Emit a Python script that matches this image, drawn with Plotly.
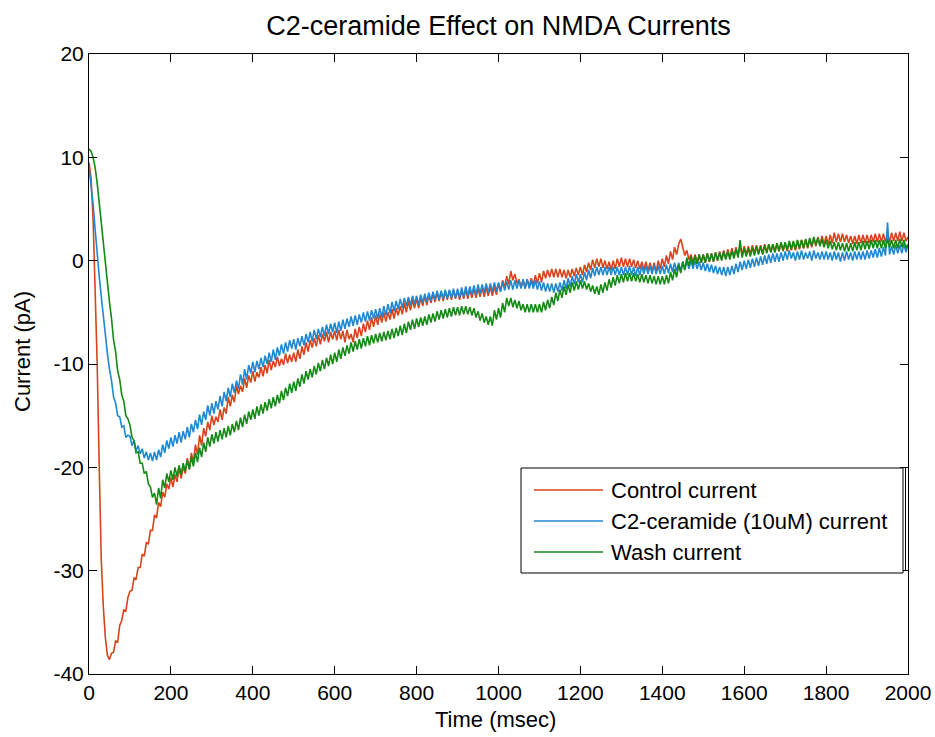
import plotly.graph_objects as go

# ---- data ----
time_ms = list(range(0, 2001, 5))

control_current = [
    9.5, 8.0, 4.0, -2.0, -10.0, -20.0, -29.0, -33.5, -36.5, -38.2, -38.6, -38.0, -37.9, -36.8, -36.9, -35.3, -34.8, -33.8, -33.9, -32.6,
    -32.0, -31.9, -30.7, -30.8, -29.7, -29.7, -28.4, -28.6, -27.3, -27.4, -26.1, -26.1, -24.6, -24.9, -23.4, -23.8, -22.4, -22.9, -21.6, -22.1,
    -21.0, -21.9, -20.7, -21.4, -20.0, -21.1, -19.9, -20.6, -19.1, -20.2, -18.6, -19.5, -17.8, -18.8, -16.9, -17.9, -16.2, -17.0, -15.6, -16.4,
    -15.0, -15.9, -15.1, -15.6, -14.4, -15.4, -14.2, -14.8, -13.2, -14.1, -13.0, -13.7, -12.1, -12.9, -12.1, -12.7, -11.4, -12.3, -11.1, -11.8,
    -10.7, -11.7, -10.8, -11.3, -10.3, -11.2, -10.1, -10.9, -9.6, -10.6, -9.7, -10.3, -9.3, -10.2, -9.5, -10.1, -9.0, -9.9, -9.1, -9.8,
    -8.9, -9.8, -8.6, -9.5, -8.3, -9.1, -7.9, -8.8, -7.7, -8.4, -7.5, -8.3, -7.2, -8.1, -7.1, -7.8, -6.9, -7.9, -6.9, -7.6,
    -6.8, -7.7, -6.7, -7.6, -6.8, -7.9, -6.7, -7.6, -7.1, -7.9, -6.6, -7.5, -6.4, -7.3, -6.1, -6.9, -5.8, -6.7, -5.5, -6.4,
    -5.3, -6.2, -5.2, -6.0, -5.0, -5.9, -5.0, -5.7, -4.7, -5.6, -4.6, -5.3, -4.4, -5.2, -4.1, -5.0, -3.9, -4.8, -3.8, -4.6,
    -3.7, -4.6, -3.6, -4.4, -3.4, -4.3, -3.3, -4.1, -3.2, -4.0, -3.1, -3.9, -3.0, -3.9, -3.0, -3.8, -2.9, -3.8, -2.9, -3.7,
    -2.9, -3.8, -2.9, -3.7, -2.8, -3.7, -2.8, -3.6, -2.7, -3.6, -2.7, -3.5, -2.6, -3.5, -2.6, -3.4, -2.5, -3.4, -2.5, -3.3,
    -2.2, -3.0, -1.9, -2.6, -1.5, -2.3, -1.0, -1.9, -1.3, -2.2, -1.8, -2.6, -1.9, -2.7, -1.8, -2.5, -1.7, -2.4, -1.4, -2.2,
    -1.2, -2.1, -1.0, -1.7, -0.9, -1.6, -0.8, -1.6, -0.8, -1.6, -0.8, -1.6, -0.9, -1.7, -0.9, -1.6, -0.8, -1.5, -0.7, -1.4,
    -0.6, -1.4, -0.4, -1.1, -0.2, -0.9, 0.1, -0.7, 0.2, -0.6, 0.2, -0.7, 0.0, -0.8, -0.1, -0.9, 0.0, -0.8, 0.2, -0.6,
    0.3, -0.6, 0.2, -0.6, 0.2, -0.6, 0.1, -0.7, 0.0, -0.8, -0.1, -0.9, -0.1, -1.0, -0.2, -1.0, -0.2, -1.1, 0.0, -0.8,
    0.2, -0.6, 0.5, -0.3, 0.9, 0.1, 1.3, 0.6, 1.6, 2.1, 1.4, 0.5, 1.0, 0.1, 0.6, -0.2, 0.6, -0.3, 0.6, -0.2,
    0.6, -0.2, 0.7, -0.1, 0.7, -0.1, 0.8, 0.0, 0.9, 0.1, 1.0, 0.2, 1.1, 0.3, 1.2, 0.4, 1.3, 0.5, 1.4, 0.6,
    1.4, 0.6, 1.4, 0.6, 1.5, 0.7, 1.5, 0.7, 1.5, 0.7, 1.6, 0.8, 1.6, 0.8, 1.6, 0.8, 1.7, 0.9, 1.7, 0.9,
    1.7, 0.9, 1.8, 1.0, 1.8, 1.0, 1.9, 1.1, 2.0, 1.2, 2.0, 1.2, 2.1, 1.3, 2.2, 1.4, 2.3, 1.5, 2.4, 1.6,
    2.4, 1.6, 2.5, 1.7, 2.7, 1.8, 2.6, 1.8, 2.6, 1.8, 2.5, 1.7, 2.4, 1.6, 2.4, 1.6, 2.5, 1.7, 2.5, 1.7,
    2.5, 1.7, 2.5, 1.8, 2.6, 1.8, 2.6, 1.8, 2.6, 1.8, 2.6, 1.8, 2.7, 1.9, 2.7, 1.9, 2.8, 1.9, 2.7, 1.9,
    2.3,
]

ceramide_current = [
    9.0, 7.5, 5.5, 3.0, 0.5, -1.5, -3.5, -5.5, -7.5, -9.0, -10.5, -11.6, -13.2, -13.8, -15.0, -15.1, -16.1, -16.0, -17.1, -16.9,
    -17.0, -17.9, -17.4, -18.4, -17.9, -18.7, -18.2, -19.1, -18.5, -19.3, -18.6, -19.4, -18.5, -19.3, -18.3, -19.0, -17.8, -18.6, -17.4, -18.2,
    -17.1, -18.0, -16.9, -17.7, -16.6, -17.6, -16.5, -17.3, -16.1, -17.1, -15.8, -16.6, -15.4, -16.3, -14.9, -15.9, -14.6, -15.4, -14.0, -15.0,
    -13.8, -14.8, -13.6, -14.4, -13.1, -14.1, -12.7, -13.6, -12.3, -13.2, -11.9, -12.8, -11.6, -12.4, -11.0, -12.0, -10.5, -11.5, -10.1, -10.9,
    -9.8, -10.8, -9.7, -10.5, -9.4, -10.3, -9.2, -10.0, -8.9, -9.8, -8.6, -9.6, -8.4, -9.2, -8.1, -9.0, -7.9, -8.8, -7.7, -8.5,
    -7.6, -8.6, -7.5, -8.3, -7.3, -8.2, -7.1, -7.9, -6.9, -7.8, -6.7, -7.6, -6.6, -7.4, -6.4, -7.3, -6.2, -7.1, -6.1, -6.9,
    -6.0, -7.0, -5.9, -6.8, -5.7, -6.6, -5.6, -6.4, -5.4, -6.3, -5.3, -6.2, -5.2, -6.0, -5.0, -5.9, -4.9, -5.8, -4.8, -5.6,
    -4.7, -5.6, -4.6, -5.5, -4.4, -5.3, -4.2, -5.1, -4.0, -4.9, -3.9, -4.7, -3.7, -4.6, -3.6, -4.4, -3.5, -4.3, -3.4, -4.2,
    -3.4, -4.3, -3.3, -4.1, -3.2, -4.0, -3.1, -3.9, -3.0, -3.8, -2.9, -3.8, -2.9, -3.7, -2.8, -3.7, -2.8, -3.6, -2.7, -3.6,
    -2.7, -3.6, -2.6, -3.5, -2.5, -3.4, -2.5, -3.3, -2.4, -3.3, -2.3, -3.2, -2.3, -3.1, -2.2, -3.1, -2.2, -3.0, -2.1, -3.0,
    -2.1, -3.0, -2.0, -2.9, -2.0, -2.8, -1.9, -2.8, -1.9, -2.7, -1.9, -2.7, -1.8, -2.7, -1.8, -2.7, -1.9, -2.7, -1.9, -2.8,
    -2.0, -2.9, -2.1, -3.0, -2.2, -3.0, -2.2, -3.1, -2.2, -3.0, -2.1, -2.9, -1.9, -2.7, -1.7, -2.5, -1.5, -2.3, -1.3, -2.1,
    -1.3, -2.1, -1.1, -1.9, -0.9, -1.7, -0.7, -1.5, -0.6, -1.4, -0.6, -1.4, -0.6, -1.4, -0.6, -1.4, -0.6, -1.4, -0.6, -1.4,
    -0.6, -1.4, -0.6, -1.4, -0.5, -1.4, -0.6, -1.5, -0.6, -1.4, -0.5, -1.3, -0.5, -1.3, -0.5, -1.3, -0.4, -1.3, -0.5, -1.3,
    -0.5, -1.3, -0.4, -1.2, -0.3, -1.1, -0.2, -1.0, -0.2, -1.0, -0.1, -0.9, 0.0, -0.8, 0.0, -0.8, 0.0, -0.8, -0.1, -0.9,
    -0.2, -1.0, -0.3, -1.1, -0.4, -1.2, -0.5, -1.3, -0.6, -1.4, -0.6, -1.5, -0.6, -1.4, -0.5, -1.3, -0.3, -1.1, -0.1, -0.9,
    0.0, -0.8, 0.1, -0.7, 0.2, -0.6, 0.3, -0.5, 0.4, -0.4, 0.5, -0.3, 0.6, -0.2, 0.7, -0.1, 0.7, -0.1, 0.8, 0.0,
    0.9, 0.1, 1.0, 0.2, 0.8, 0.0, 0.9, 0.1, 1.0, 0.1, 0.8, 0.2, 0.9, 0.0, 1.0, 0.2, 0.8, 0.1, 0.9, 0.1,
    0.9, 0.1, 0.8, 0.0, 0.9, 0.1, 0.8, -0.1, 0.8, 0.0, 0.9, 0.1, 0.8, 0.0, 0.9, 0.1, 0.9, 0.1, 0.9, 0.1,
    1.0, 0.2, 1.0, 0.3, 1.1, 0.3, 1.2, 0.4, 1.3, 0.5, 3.7, 0.6, 1.4, 0.6, 1.5, 0.7, 1.5, 0.7, 1.6, 0.8,
    1.5,
]

wash_current = [
    10.8, 10.6, 10.0, 9.0, 7.5, 5.5, 3.5, 1.5, -0.5, -2.2, -4.0, -5.6, -7.7, -8.8, -10.7, -11.5, -13.0, -13.6, -15.0, -15.3,
    -15.9, -17.1, -17.4, -18.6, -18.5, -19.6, -19.6, -20.6, -20.4, -21.6, -21.9, -22.9, -22.5, -23.6, -22.0, -23.0, -21.2, -22.0, -20.6, -21.4,
    -20.3, -21.2, -20.0, -20.9, -19.8, -20.7, -19.6, -20.4, -19.3, -20.2, -19.0, -19.9, -18.6, -19.5, -18.1, -19.0, -17.6, -18.5, -17.1, -18.0,
    -16.8, -17.7, -16.6, -17.5, -16.4, -17.3, -16.2, -17.1, -16.0, -16.9, -15.8, -16.6, -15.5, -16.4, -15.2, -16.1, -14.9, -15.8, -14.6, -15.4,
    -14.4, -15.3, -14.1, -15.0, -13.9, -14.8, -13.7, -14.5, -13.4, -14.3, -13.2, -14.1, -13.0, -13.8, -12.6, -13.5, -12.3, -13.1, -11.9, -12.8,
    -11.7, -12.6, -11.4, -12.2, -11.0, -11.9, -10.7, -11.5, -10.5, -11.3, -10.2, -11.0, -9.9, -10.7, -9.6, -10.5, -9.4, -10.2, -9.1, -10.0,
    -8.9, -9.8, -8.6, -9.5, -8.4, -9.2, -8.2, -9.0, -7.9, -8.8, -7.8, -8.6, -7.6, -8.5, -7.5, -8.3, -7.3, -8.2, -7.2, -8.0,
    -7.1, -7.9, -7.0, -7.8, -6.9, -7.7, -6.8, -7.6, -6.6, -7.5, -6.5, -7.3, -6.3, -7.2, -6.1, -7.0, -5.9, -6.7, -5.7, -6.6,
    -5.6, -6.4, -5.5, -6.3, -5.4, -6.2, -5.2, -6.0, -5.1, -5.9, -4.9, -5.7, -4.8, -5.6, -4.7, -5.5, -4.6, -5.4, -4.5, -5.3,
    -4.5, -5.3, -4.4, -5.2, -4.4, -5.2, -4.5, -5.3, -4.6, -5.5, -4.9, -5.8, -5.1, -6.0, -5.4, -6.2, -5.4, -6.3, -4.8, -5.7,
    -4.6, -5.5, -4.1, -5.0, -3.6, -4.4, -3.6, -4.5, -3.8, -4.6, -3.9, -4.8, -4.2, -5.0, -4.2, -5.0, -4.2, -5.0, -4.2, -5.0,
    -4.2, -5.0, -4.0, -4.8, -3.8, -4.6, -3.5, -4.3, -3.1, -3.9, -2.8, -3.6, -2.5, -3.3, -2.3, -3.1, -2.1, -2.9, -2.0, -2.8,
    -1.9, -2.7, -2.0, -2.8, -2.2, -3.0, -2.4, -3.2, -2.5, -3.3, -2.3, -3.1, -2.1, -2.9, -1.8, -2.6, -1.6, -2.4, -1.4, -2.2,
    -1.3, -2.1, -1.2, -2.0, -1.2, -2.0, -1.2, -2.0, -1.3, -2.1, -1.3, -2.1, -1.4, -2.2, -1.4, -2.2, -1.5, -2.3, -1.5, -2.3,
    -1.5, -2.3, -1.4, -2.2, -1.1, -1.9, -0.8, -1.6, -0.4, -1.2, -0.1, -0.9, 0.3, -0.5, 0.4, -0.4, 0.5, -0.3, 0.6, -0.2,
    0.6, -0.2, 0.7, -0.1, 0.7, -0.1, 0.8, 0.0, 0.8, 0.0, 0.9, 0.1, 0.9, 0.1, 1.0, 0.2, 1.1, 0.3, 2.0, 0.3,
    1.2, 0.4, 1.2, 0.4, 1.3, 0.5, 1.4, 0.6, 1.4, 0.6, 1.5, 0.7, 1.6, 0.8, 1.6, 0.8, 1.7, 0.9, 1.8, 1.0,
    1.8, 1.0, 1.9, 1.1, 1.9, 1.1, 2.0, 1.2, 2.0, 1.2, 2.1, 1.3, 2.2, 1.4, 2.3, 1.5, 2.2, 1.4, 2.1, 1.3,
    2.0, 1.2, 1.9, 1.1, 1.8, 1.0, 1.8, 1.0, 1.7, 0.9, 1.7, 0.9, 1.7, 0.9, 1.8, 1.0, 1.8, 1.0, 1.9, 1.1,
    1.9, 1.1, 2.0, 1.2, 2.0, 1.2, 2.0, 1.2, 2.0, 1.2, 2.1, 1.3, 2.0, 1.2, 2.0, 1.2, 2.1, 1.3, 2.0, 1.2,
    1.6,
]

series_names = ["Control current", "C2-ceramide (10uM) current", "Wash current"]
series_colors = ["#D8431C", "#1E88D2", "#138A13"]
series_values = [control_current, ceramide_current, wash_current]

x_ticks = [0, 200, 400, 600, 800, 1000, 1200, 1400, 1600, 1800, 2000]
y_ticks = [-40, -30, -20, -10, 0, 10, 20]
y_tick_labels = ["-40", "-30", "-20", "-10", "0", "10", "20"]

FONT = "Arial, Liberation Sans, Helvetica, sans-serif"

fig = go.Figure()
for name, color, vals in zip(series_names, series_colors, series_values):
    fig.add_trace(go.Scatter(x=time_ms, y=vals, mode="lines", name=name,
                             line=dict(color=color, width=1.6),
                             showlegend=False))

axis_common = dict(showline=True, linecolor="#000000", linewidth=1,
                   mirror="ticks", ticks="inside", ticklen=8,
                   tickcolor="#000000", showgrid=False, zeroline=False,
                   automargin=False,
                   tickfont=dict(family=FONT, size=21, color="#000000"))

fig.update_xaxes(range=[0, 2000], tickvals=x_ticks, **axis_common)
fig.update_yaxes(range=[-40, 20], tickvals=y_ticks, ticktext=y_tick_labels,
                 **axis_common)

L, R, T, B = 89, 908, 54, 674
W, H = R - L, B - T
def px(xp):
    return (xp - L) / W
def py(yp):
    return (B - yp) / H

# legend box drawn manually (MATLAB style, long line samples)
shapes = [
    dict(type="rect", xref="paper", yref="paper", x0=px(521), x1=px(903),
         y0=py(573), y1=py(468), line=dict(color="#000000", width=1),
         fillcolor="#ffffff", layer="above"),
    dict(type="line", xref="paper", yref="paper", x0=px(905.5), x1=px(905.5),
         y0=py(571), y1=py(467), line=dict(color="#000000", width=1)),
]
annotations = [
    dict(xref="paper", yref="paper", x=px(495), y=py(719), xanchor="center",
         yanchor="middle", showarrow=False, text="Time (msec)",
         font=dict(family=FONT, size=22, color="#000000")),
    dict(xref="paper", yref="paper", x=px(23), y=py(352), xanchor="center",
         yanchor="middle", showarrow=False, text="Current (pA)", textangle=-90,
         font=dict(family=FONT, size=22, color="#000000")),
]
row_y = [490, 521, 552]
for name, color, yy in zip(series_names, series_colors, row_y):
    shapes.append(dict(type="line", xref="paper", yref="paper",
                       x0=px(534), x1=px(603), y0=py(yy), y1=py(yy),
                       line=dict(color=color, width=1.3)))
    annotations.append(dict(xref="paper", yref="paper", x=px(609), y=py(yy),
                            xanchor="left", yanchor="middle", showarrow=False,
                            text=name,
                            font=dict(family=FONT, size=22, color="#000000")))

fig.update_layout(
    width=935, height=737,
    margin=dict(l=L, r=935 - R, t=T, b=737 - B),
    paper_bgcolor="#ffffff", plot_bgcolor="#ffffff",
    title=dict(text="C2-ceramide Effect on NMDA Currents", xref="paper",
               x=0.5, xanchor="center", y=1 - 26 / 737, yanchor="middle",
               font=dict(family=FONT, size=27, color="#000000")),
    shapes=shapes, annotations=annotations,
)

fig.write_html("out.html")
